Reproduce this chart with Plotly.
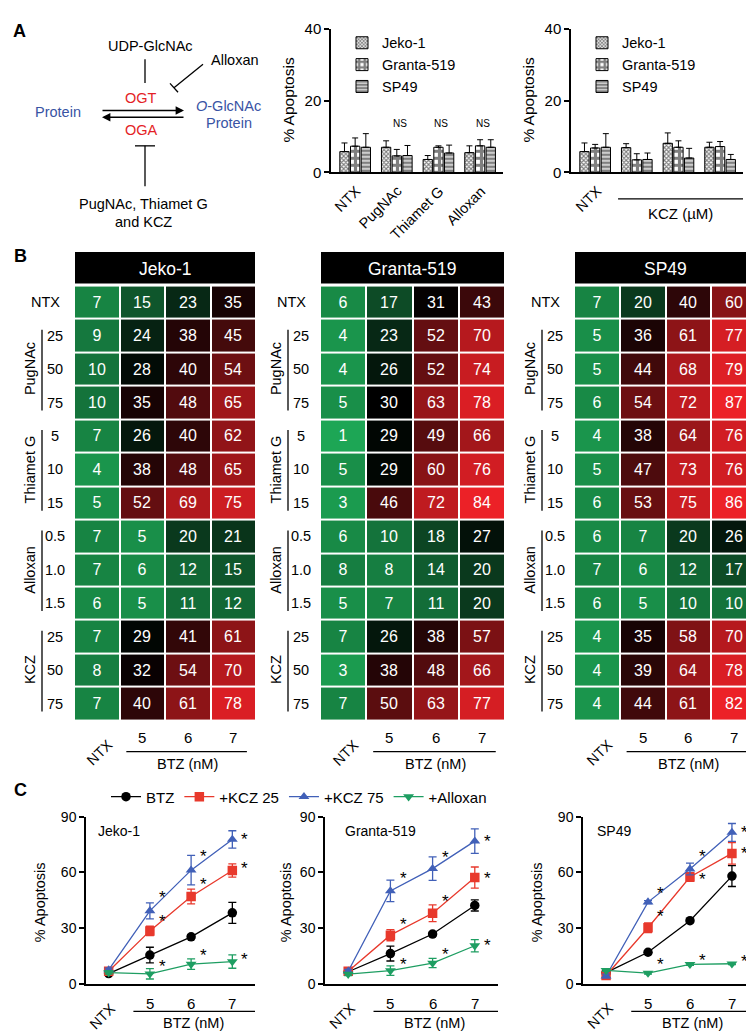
import plotly.graph_objects as go

W, H = 754, 1034
FONT = "Liberation Sans, Arial, sans-serif"


def fx(p):
    return p / W


def fy(p):
    return 1 - p / H


# ---------------- data ----------------
cell_lines = ["Jeko-1", "Granta-519", "SP49"]

a1_cats = ["NTX", "PugNAc", "Thiamet G", "Alloxan"]
a1_jeko = [5.8, 7.0, 3.6, 5.5]
a1_granta = [7.3, 4.6, 7.0, 7.4]
a1_sp49 = [7.0, 4.7, 5.4, 7.0]
a1_jeko_err = [2.4, 1.8, 1.1, 1.9]
a1_granta_err = [2.3, 1.8, 0.4, 1.7]
a1_sp49_err = [3.8, 2.8, 2.2, 2.1]

a2_cats = ["NTX", "25", "50", "75"]
a2_jeko = [5.8, 6.9, 8.1, 7.0]
a2_granta = [6.8, 3.5, 7.0, 7.2]
a2_sp49 = [7.0, 3.6, 4.0, 3.6]
a2_jeko_err = [2.4, 1.1, 2.9, 1.4]
a2_granta_err = [1.0, 1.7, 1.8, 1.4]
a2_sp49_err = [3.8, 1.8, 2.7, 1.4]

hm_cols = ["NTX", "5", "6", "7"]
hm_rows = ["NTX", "25", "50", "75", "5", "10", "15", "0.5", "1.0", "1.5", "25", "50", "75"]
hm_groups = [("PugNAc", 1, 3), ("Thiamet G", 4, 6), ("Alloxan", 7, 9), ("KCZ", 10, 12)]

hm_jeko = [
    [7, 15, 23, 35], [9, 24, 38, 45], [10, 28, 40, 54], [10, 35, 48, 65],
    [7, 26, 40, 62], [4, 38, 48, 65], [5, 52, 69, 75],
    [7, 5, 20, 21], [7, 6, 12, 15], [6, 5, 11, 12],
    [7, 29, 41, 61], [8, 32, 54, 70], [7, 40, 61, 78],
]
hm_granta = [
    [6, 17, 31, 43], [4, 23, 52, 70], [4, 26, 52, 74], [5, 30, 63, 78],
    [1, 29, 49, 66], [5, 29, 60, 76], [3, 46, 72, 84],
    [6, 10, 18, 27], [8, 8, 14, 20], [5, 7, 11, 20],
    [7, 26, 38, 57], [3, 38, 48, 66], [7, 50, 63, 77],
]
hm_sp49 = [
    [7, 20, 40, 60], [5, 36, 61, 77], [5, 44, 68, 79], [6, 54, 72, 87],
    [4, 38, 64, 76], [5, 47, 73, 76], [6, 53, 75, 86],
    [6, 7, 20, 26], [7, 6, 12, 17], [6, 5, 10, 10],
    [4, 35, 58, 70], [4, 39, 64, 78], [4, 44, 61, 82],
]

c_x = ["NTX", "5", "6", "7"]
c_series = ["BTZ", "+KCZ 25", "+KCZ 75", "+Alloxan"]
# Jeko-1
c_jeko_btz = [5.5, 15.5, 25.3, 38.2]
c_jeko_btz_err = [1.0, 4.2, 1.0, 5.7]
c_jeko_k25 = [6.8, 28.5, 47.0, 61.0]
c_jeko_k25_err = [1.0, 2.5, 4.0, 3.6]
c_jeko_k75 = [7.5, 39.3, 61.2, 77.7]
c_jeko_k75_err = [1.0, 4.3, 7.9, 4.7]
c_jeko_all = [6.0, 5.4, 10.6, 12.0]
c_jeko_all_err = [0.8, 2.8, 2.8, 3.6]
c_jeko_stars = [[48, 35, 11], [70, 55, 16.6], [79.5, 63.5, 14.8]]
# Granta-519
c_granta_btz = [6.5, 16.3, 26.8, 42.2]
c_granta_btz_err = [1.0, 4.0, 1.0, 3.0]
c_granta_k25 = [6.8, 26.2, 38.0, 57.2]
c_granta_k25_err = [1.0, 3.0, 4.5, 5.7]
c_granta_k75 = [6.8, 50.0, 62.0, 76.8]
c_granta_k75_err = [1.0, 5.8, 6.3, 6.6]
c_granta_all = [5.2, 7.1, 11.2, 20.5]
c_granta_all_err = [0.8, 2.6, 2.5, 3.3]
c_granta_stars = [[58.2, 33.7, 12], [69.7, 45.7, 17.4], [78, 58.2, 22.3]]
# SP49
c_sp49_btz = [6.0, 17.0, 34.0, 58.0]
c_sp49_btz_err = [1.0, 0.8, 1.0, 5.6]
c_sp49_k25 = [4.5, 30.2, 57.5, 70.2]
c_sp49_k25_err = [1.0, 2.6, 2.3, 5.8]
c_sp49_k75 = [4.2, 44.0, 61.8, 81.5]
c_sp49_k75_err = [1.0, 0.8, 3.2, 4.8]
c_sp49_all = [7.2, 5.8, 10.5, 10.8]
c_sp49_all_err = [0.5, 0.5, 0.5, 0.5]
c_sp49_stars = [[50, 38, 12], [70, 58, 14.3], [83, 72, 13.5]]

# ---------------- styles ----------------
RED = "#e8392c"
BLUE = "#4160b8"
GREEN = "#1e9e62"
DRED = "#e41e26"
DBLUE = "#3953a4"

patterns = [
    dict(shape="x", size=3, solidity=0.6, fgcolor="black", bgcolor="white"),
    dict(shape="+", size=7, solidity=0.7, fgcolor="black", bgcolor="white"),
    dict(shape="-", size=4, solidity=0.7, fgcolor="black", bgcolor="white"),
]
c_styles = [
    dict(color="black", symbol="circle"),
    dict(color=RED, symbol="square"),
    dict(color=BLUE, symbol="triangle-up"),
    dict(color=GREEN, symbol="triangle-down"),
]

fig = go.Figure()
annotations = []
shapes = []


def ann(text, x, y, size=14, color="black", xref="paper", yref="paper", **kw):
    d = dict(text=text, x=x, y=y, xref=xref, yref=yref, showarrow=False,
             xanchor="center", yanchor="middle",
             font=dict(family=FONT, size=size, color=color))
    d.update(kw)
    annotations.append(d)


def pline(x0, y0, x1, y1, width=1.3, color="black", xref="paper", yref="paper"):
    shapes.append(dict(type="line", x0=x0, y0=y0, x1=x1, y1=y1, xref=xref, yref=yref,
                       line=dict(color=color, width=width)))


# ---------------- panel A diagram ----------------
ann("<b>A</b>", fx(11), fy(14), size=18)
ann("UDP-GlcNAc", fx(142), fy(29), size=14.5)
pline(fx(137), fy(43), fx(137), fy(67))
ann("Alloxan", fx(227), fy(44), size=14.5)
pline(fx(195), fy(48), fx(166), fy(72))
pline(fx(162), fy(67.5), fx(170), fy(76.5))
ann("OGT", fx(133), fy(82), size=14.5, color=DRED)
ann("OGA", fx(133), fy(115), size=14.5, color=DRED)
ann("Protein", fx(50), fy(97), size=14.5, color=DBLUE)
ann("<i>O</i>-GlcNAc", fx(221), fy(90), size=14.5, color=DBLUE)
ann("Protein", fx(221), fy(108), size=14.5, color=DBLUE)
annotations.append(dict(text="", x=fx(176), y=fy(95), xref="paper", yref="paper",
                        showarrow=True, ax=-83, ay=0, arrowhead=2, arrowsize=1.2,
                        arrowwidth=1.4, arrowcolor="black"))
annotations.append(dict(text="", x=fx(94), y=fy(102), xref="paper", yref="paper",
                        showarrow=True, ax=83, ay=0, arrowhead=2, arrowsize=1.2,
                        arrowwidth=1.4, arrowcolor="black"))
pline(fx(137), fy(131), fx(137), fy(172))
pline(fx(127), fy(131), fx(147), fy(131))
ann("PugNAc, Thiamet G", fx(135), fy(190), size=14.5)
ann("and KCZ", fx(135), fy(208), size=14.5)

# ---------------- panel A bar charts ----------------
def bar_block(cats, vals, errs, xa, ya, legend):
    for k, (v, e) in enumerate(zip(vals, errs)):
        fig.add_trace(go.Bar(
            x=cats, y=v, name=cell_lines[k], xaxis=xa, yaxis=ya, legend=legend,
            marker=dict(color="white", pattern=patterns[k], line=dict(color="black", width=1)),
            error_y=dict(type="data", array=e, arrayminus=[0] * len(e), symmetric=False,
                         color="black", thickness=1, width=3),
            hoverinfo="skip"))


bar_block(a1_cats, [a1_jeko, a1_granta, a1_sp49], [a1_jeko_err, a1_granta_err, a1_sp49_err],
          "x", "y", "legend")
bar_block(a2_cats, [a2_jeko, a2_granta, a2_sp49], [a2_jeko_err, a2_granta_err, a2_sp49_err],
          "x2", "y2", "legend2")

axA = dict(range=[-0.58, 3.55], showline=True, linecolor="black", linewidth=1.5,
           ticks="", showticklabels=False, showgrid=False, zeroline=False, fixedrange=True)
ayA = dict(range=[0, 40], tickvals=[0, 20, 40], ticks="outside", ticklen=5, tickwidth=1.5,
           tickcolor="black", showline=True, linecolor="black", linewidth=1.5,
           showgrid=False, zeroline=False, tickfont=dict(family=FONT, size=15, color="black"))

a_dom_y = [fy(158), fy(12)]
layout_axes = {}
layout_axes["xaxis"] = dict(axA, domain=[fx(323), fx(495)], anchor="y")
layout_axes["yaxis"] = dict(ayA, domain=a_dom_y, anchor="x")
layout_axes["xaxis2"] = dict(axA, domain=[fx(563), fx(735)], anchor="y2")
layout_axes["yaxis2"] = dict(ayA, domain=a_dom_y, anchor="x2")

ann("% Apoptosis", fx(281), fy(84), size=15.5, textangle=-90)
ann("% Apoptosis", fx(521), fy(84), size=15.5, textangle=-90)

for c in a1_cats:
    ann(c, c, fy(166), size=14.5, xref="x", textangle=-45, xanchor="right", yanchor="top", xshift=11)
for c in a1_cats[1:]:
    ann("NS", c, fy(108), size=10, xref="x", xshift=3)

ann("NTX", "NTX", fy(166), size=14.5, xref="x2", textangle=-45, xanchor="right", yanchor="top", xshift=12)
for c in a2_cats[1:]:
    ann(c, c, fy(175), size=15, xref="x2")
    ann("NS", c, fy(108), size=10, xref="x2", xshift=2)
shapes.append(dict(type="line", xref="x2", yref="paper", x0=0.55, x1=3.55, y0=fy(185), y1=fy(185),
                   line=dict(color="black", width=1.2)))
ann("KCZ (µM)", 2.05, fy(200), size=15, xref="x2")

# ---------------- panel B heatmaps ----------------
ann("<b>B</b>", fx(12), fy(243), size=18)
hm_left = [66, 312, 566]
hm_right = [248, 497, 749]
row_top, row_bot = 273, 715
row_h = (row_bot - row_top) / len(hm_rows)
colorscale = [[0.0, "rgb(30,172,88)"], [30 / 82, "rgb(0,0,0)"], [1.0, "rgb(236,33,39)"]]

for k, (name, z) in enumerate(zip(cell_lines, [hm_jeko, hm_granta, hm_sp49])):
    xa, ya = f"x{3 + k}", f"y{3 + k}"
    fig.add_trace(go.Heatmap(
        z=z, x=list(range(len(hm_cols))), y=list(range(len(hm_rows))),
        xaxis=xa, yaxis=ya, colorscale=colorscale, zmin=0, zmax=82, showscale=False,
        xgap=2, ygap=2, texttemplate="%{z}",
        textfont=dict(family=FONT, size=16, color="white"), hoverinfo="skip"))
    L, R = hm_left[k], hm_right[k]
    layout_axes[f"xaxis{3 + k}"] = dict(domain=[fx(L), fx(R)], range=[-0.5, 3.5], visible=False,
                                        anchor=ya, fixedrange=True)
    layout_axes[f"yaxis{3 + k}"] = dict(domain=[fy(row_bot), fy(row_top)], range=[12.5, -0.5],
                                        visible=False, anchor=xa, fixedrange=True)
    # header
    shapes.append(dict(type="rect", xref="paper", yref="paper", x0=fx(L + 1), x1=fx(R - 1),
                       y0=fy(271), y1=fy(239), fillcolor="black", line=dict(width=0)))
    ann(name, fx((L + R) / 2), fy(256), size=17.5, color="white")
    # row labels
    ann("NTX", fx(L - 12), fy(row_top + row_h / 2), size=14.5, xanchor="right")
    for r in range(1, len(hm_rows)):
        ann(hm_rows[r], fx(L - 19), fy(row_top + row_h * (r + 0.5)), size=14.5)
    for gname, r0, r1 in hm_groups:
        c0 = row_top + row_h * (r0 + 0.5)
        c1 = row_top + row_h * (r1 + 0.5)
        pline(fx(L - 32), fy(c0 - 6), fx(L - 32), fy(c1 + 8), width=1.3)
        ann(gname, fx(L - 44), fy((c0 + c1) / 2), size=14.5, textangle=-90)
    # column labels
    ann("NTX", 0, fy(729), size=14.5, xref=xa, textangle=-45, xanchor="right", yanchor="top", xshift=21)
    for ci in range(1, 4):
        ann(hm_cols[ci], ci, fy(733), size=15, xref=xa)
    shapes.append(dict(type="line", xref=xa, yref="paper", x0=0.65, x1=3.3, y0=fy(747), y1=fy(747),
                       line=dict(color="black", width=1.2)))
    ann("BTZ (nM)", 2, fy(759), size=14.5, xref=xa)

# ---------------- panel C line charts ----------------
ann("<b>C</b>", fx(12), fy(786), size=18)
c_data = [
    ([c_jeko_btz, c_jeko_k25, c_jeko_k75, c_jeko_all],
     [c_jeko_btz_err, c_jeko_k25_err, c_jeko_k75_err, c_jeko_all_err], c_jeko_stars),
    ([c_granta_btz, c_granta_k25, c_granta_k75, c_granta_all],
     [c_granta_btz_err, c_granta_k25_err, c_granta_k75_err, c_granta_all_err], c_granta_stars),
    ([c_sp49_btz, c_sp49_k25, c_sp49_k75, c_sp49_all],
     [c_sp49_btz_err, c_sp49_k25_err, c_sp49_k75_err, c_sp49_all_err], c_sp49_stars),
]
c_dom_x = [[78, 247], [317, 490], [575, 747]]
c_title_x = [32, 278, 529]
c_name_x = [88, 335, 587]
xnum = list(range(len(c_x)))

for k, (vals, errs, stars) in enumerate(c_data):
    xa, ya = f"x{6 + k}", f"y{6 + k}"
    for s in range(4):
        st = c_styles[s]
        fig.add_trace(go.Scatter(
            x=xnum, y=vals[s], mode="lines+markers", name=c_series[s], xaxis=xa, yaxis=ya,
            legend="legend3", showlegend=(k == 0),
            line=dict(color=st["color"], width=1.3),
            marker=dict(color=st["color"], symbol=st["symbol"], size=9.5),
            error_y=dict(type="data", array=errs[s], color=st["color"], thickness=1.3, width=4),
            hoverinfo="skip"))
    for i, ys in enumerate(stars):
        for yv in ys:
            ann("*", i + 1.3, yv, size=17, xref=xa, yref=ya, yshift=-3)
    layout_axes[f"xaxis{6 + k}"] = dict(domain=[fx(c_dom_x[k][0]), fx(c_dom_x[k][1])],
                                        range=[-0.55, 3.55], showline=True, linecolor="black",
                                        linewidth=1.5, ticks="", showticklabels=False,
                                        showgrid=False, zeroline=False, anchor=ya, fixedrange=True)
    layout_axes[f"yaxis{6 + k}"] = dict(domain=[fy(983), fy(813)], range=[0, 90],
                                        tickvals=[0, 30, 60, 90], ticks="outside", ticklen=5,
                                        tickwidth=1.5, tickcolor="black", showline=True,
                                        linecolor="black", linewidth=1.5, showgrid=False,
                                        zeroline=False, anchor=xa, fixedrange=True,
                                        tickfont=dict(family=FONT, size=14, color="black"))
    ann("% Apoptosis", fx(c_title_x[k]), fy(900), size=14.5, textangle=-90)
    ann(cell_lines[k], fx(c_name_x[k]), fy(828), size=14, xanchor="left")
    ann("NTX", 0, fy(997), size=14.5, xref=xa, textangle=-45, xanchor="right", yanchor="top", xshift=13)
    for i in range(1, 4):
        ann(c_x[i], i, fy(1003), size=15, xref=xa)
    shapes.append(dict(type="line", xref=xa, yref="paper", x0=0.6, x1=3.55, y0=fy(1011), y1=fy(1011),
                       line=dict(color="black", width=1.2)))
    ann("BTZ (nM)", 2.05, fy(1023), size=14.5, xref=xa)

leg_common = dict(bgcolor="rgba(0,0,0,0)", font=dict(family=FONT, size=14.5, color="black"),
                  xanchor="left", yanchor="top", tracegroupgap=0, itemclick=False,
                  itemdoubleclick=False)

fig.update_layout(
    width=W, height=H, margin=dict(l=0, r=0, t=0, b=0),
    paper_bgcolor="white", plot_bgcolor="white",
    font=dict(family=FONT, color="black"),
    barmode="group", bargap=0.23, bargroupgap=0.13,
    legend=dict(leg_common, x=fx(334), y=fy(10)),
    legend2=dict(leg_common, x=fx(574), y=fy(10)),
    legend3=dict(leg_common, x=fx(98), y=fy(793), yanchor="middle", orientation="h",
                 font=dict(family=FONT, size=15, color="black")),
    annotations=annotations, shapes=shapes,
    **layout_axes,
)

fig.write_html("out.html")
